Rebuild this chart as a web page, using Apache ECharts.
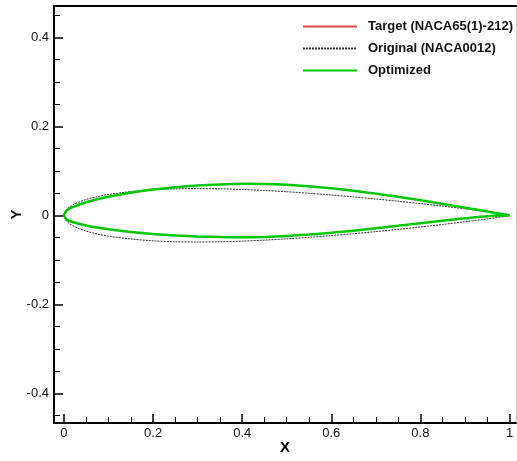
<!DOCTYPE html>
<html><head><meta charset="utf-8">
<script src="https://cdn.jsdelivr.net/npm/echarts@6/dist/echarts.min.js"></script>
<style>html,body{margin:0;padding:0;background:#fff}#c{width:517px;height:461px}</style>
</head><body><div id="c"></div>
<script>
// Chord stations
var xs = [0, 0.005, 0.0075, 0.0125, 0.025, 0.05, 0.075, 0.1, 0.15, 0.2, 0.25, 0.3, 0.35, 0.4, 0.45, 0.5, 0.55, 0.6, 0.65, 0.7, 0.75, 0.8, 0.85, 0.9, 0.95, 1.0];
// Target NACA65(1)-212
var targetUpper = [0, 0.00973, 0.01179, 0.01494, 0.02061, 0.02922, 0.03596, 0.04164, 0.05075, 0.05771, 0.06301, 0.06688, 0.06942, 0.07068, 0.07044, 0.06860, 0.06529, 0.06074, 0.05516, 0.04868, 0.04145, 0.03367, 0.02558, 0.01713, 0.00842, 0];
var targetLower = [0, -0.00873, -0.01039, -0.01280, -0.01689, -0.02290, -0.02748, -0.03130, -0.03729, -0.04179, -0.04511, -0.04744, -0.04882, -0.04926, -0.04854, -0.04654, -0.04339, -0.03932, -0.03456, -0.02924, -0.02355, -0.01775, -0.01212, -0.00679, -0.00210, 0];
// Original NACA0012 (symmetric)
var originalHalf = [0, 0.01221, 0.01480, 0.01894, 0.02614, 0.03555, 0.04200, 0.04683, 0.05316, 0.05738, 0.05941, 0.06002, 0.05950, 0.05803, 0.05580, 0.05294, 0.04952, 0.04563, 0.04132, 0.03664, 0.03160, 0.02623, 0.02053, 0.01448, 0.00807, 0.00126];
// Optimized
var optUpper = [0, 0.00960, 0.01170, 0.01490, 0.02060, 0.02925, 0.03600, 0.04170, 0.05080, 0.05775, 0.06305, 0.06690, 0.06940, 0.07065, 0.07040, 0.06855, 0.06525, 0.06070, 0.05515, 0.04870, 0.04150, 0.03370, 0.02560, 0.01715, 0.00845, 0];
var optLower = [0, -0.00860, -0.01030, -0.01275, -0.01690, -0.02295, -0.02750, -0.03135, -0.03735, -0.04185, -0.04515, -0.04745, -0.04880, -0.04922, -0.04850, -0.04650, -0.04335, -0.03930, -0.03455, -0.02925, -0.02358, -0.01778, -0.01215, -0.00680, -0.00212, 0];

var xMajor = [0, 0.2, 0.4, 0.6, 0.8, 1];
var yMajor = [-0.4, -0.2, 0, 0.2, 0.4];
var xMinor = [0.05, 0.1, 0.15, 0.25, 0.3, 0.35, 0.45, 0.5, 0.55, 0.65, 0.7, 0.75, 0.85, 0.9, 0.95];
var yMinor = [-0.45, -0.35, -0.3, -0.25, -0.15, -0.1, -0.05, 0.05, 0.1, 0.15, 0.25, 0.3, 0.35, 0.45];

var X_MIN = -0.0224, X_MAX = 1.0146, Y_MIN = -0.4667, Y_MAX = 0.4703;

function loop(up, lo) {
  var d = [];
  for (var i = xs.length - 1; i >= 0; i--) d.push([xs[i], up[i]]);
  for (var j = 1; j < xs.length; j++) d.push([xs[j], lo[j]]);
  return d;
}
var origLower = originalHalf.map(function (v) { return -v; });

var chart = echarts.init(document.getElementById('c'), null, {renderer: 'canvas'});
var font = 'Liberation Sans, Arial, sans-serif';
function fmt(v) { return v === 0 ? '0' : (v === 1 ? '1' : String(v)); }

chart.setOption({
  animation: false,
  backgroundColor: '#fff',
  grid: {left: 54, right: 1, top: 6, bottom: 38, containLabel: false, outerBoundsMode: 'none'},
  legend: {
    orient: 'vertical', left: 297, top: 15, itemWidth: 54, itemHeight: 14, itemGap: 9,
    data: ['Target (NACA65(1)-212)', 'Original (NACA0012)', 'Optimized'],
    itemStyle: {opacity: 0},
    textStyle: {fontFamily: font, fontWeight: 'bold', fontSize: 13, color: '#111', padding: [0, 0, 0, 6]},
    selectedMode: false
  },
  xAxis: [
    {type: 'value', position: 'bottom', min: X_MIN, max: X_MAX,
     name: 'X', nameLocation: 'middle', nameGap: 17, nameMoveOverlap: false,
     nameTextStyle: {fontFamily: font, fontWeight: 'bold', fontSize: 15, color: '#000'},
     axisLine: {show: true, onZero: false, lineStyle: {color: '#000', width: 2}},
     axisTick: {show: true, inside: true, length: 9, customValues: xMajor, lineStyle: {color: '#000', width: 1.5}},
     axisLabel: {show: true, margin: 4, customValues: xMajor, formatter: fmt, fontFamily: font, fontSize: 13, color: '#111'},
     splitLine: {show: false}},
    {type: 'value', position: 'bottom', min: X_MIN, max: X_MAX,
     axisLine: {show: false, onZero: false},
     axisTick: {show: true, inside: true, length: 6, customValues: xMinor, lineStyle: {color: '#000', width: 1}},
     axisLabel: {show: false}, splitLine: {show: false}},
    {type: 'value', position: 'top', min: X_MIN, max: X_MAX,
     axisLine: {show: true, onZero: false, lineStyle: {color: '#000', width: 2}},
     axisTick: {show: false}, axisLabel: {show: false}, splitLine: {show: false}}
  ],
  yAxis: [
    {type: 'value', position: 'left', min: Y_MIN, max: Y_MAX,
     name: 'Y', nameLocation: 'middle', nameGap: 30, nameRotate: 90, nameMoveOverlap: false,
     nameTextStyle: {fontFamily: font, fontWeight: 'bold', fontSize: 15, color: '#000'},
     axisLine: {show: true, onZero: false, lineStyle: {color: '#000', width: 2}},
     axisTick: {show: true, inside: true, length: 9, customValues: yMajor, lineStyle: {color: '#000', width: 1.5}},
     axisLabel: {show: true, margin: 5, customValues: yMajor, formatter: fmt, fontFamily: font, fontSize: 13, color: '#111'},
     splitLine: {show: false}},
    {type: 'value', position: 'left', min: Y_MIN, max: Y_MAX,
     axisLine: {show: false, onZero: false},
     axisTick: {show: true, inside: true, length: 6, customValues: yMinor, lineStyle: {color: '#000', width: 1}},
     axisLabel: {show: false}, splitLine: {show: false}},
    {type: 'value', position: 'right', min: Y_MIN, max: Y_MAX,
     axisLine: {show: true, onZero: false, lineStyle: {color: '#ccc', width: 1}},
     axisTick: {show: false}, axisLabel: {show: false}, splitLine: {show: false}}
  ],
  series: [
    {name: 'Original (NACA0012)', type: 'line', data: loop(originalHalf, origLower), symbol: 'none', smooth: 0.3,
     lineStyle: {color: '#333', width: 1, type: [2, 1]}, itemStyle: {color: '#333'}, z: 2},
    {name: 'Target (NACA65(1)-212)', type: 'line', data: loop(targetUpper, targetLower), symbol: 'none', smooth: 0.3,
     lineStyle: {color: '#e04848', width: 1}, itemStyle: {color: '#e04848'}, z: 3},
    {name: 'Optimized', type: 'line', data: loop(optUpper, optLower), symbol: 'none', smooth: 0.3,
     lineStyle: {color: '#00c800', width: 2.5}, itemStyle: {color: '#00c800'}, z: 4}
  ]
});
</script></body></html>
